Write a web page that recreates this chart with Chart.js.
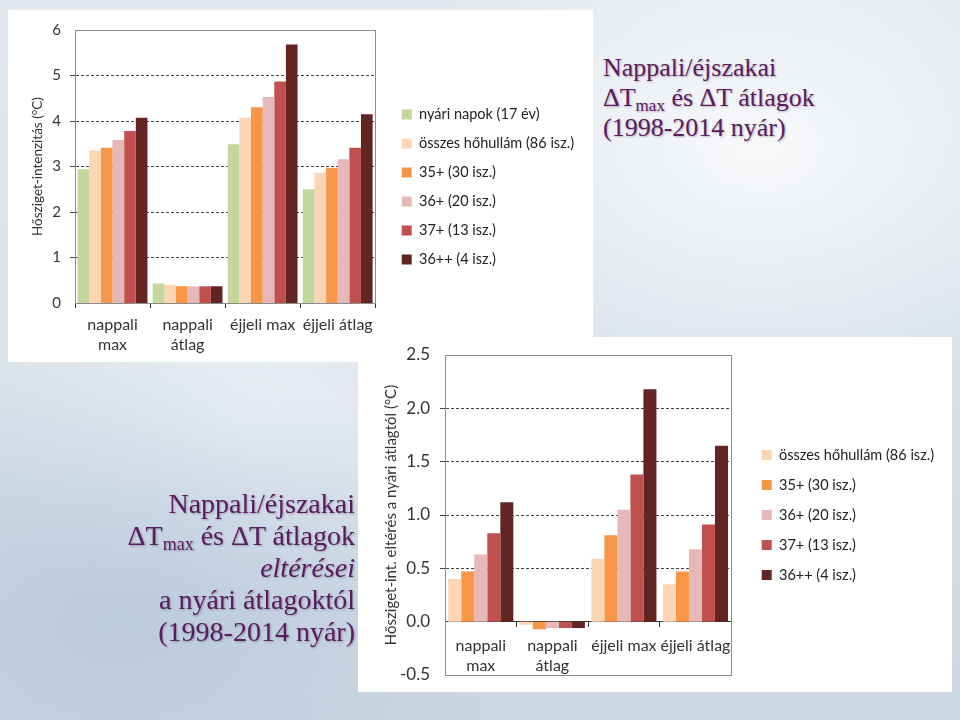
<!DOCTYPE html>
<html>
<head>
<meta charset="utf-8">
<script src="https://cdn.jsdelivr.net/npm/chart.js@4"></script>
<style>
  body { margin: 0; width: 960px; height: 720px; overflow: hidden;
    background:
      radial-gradient(ellipse 380px 260px at 760px 150px, rgba(250,251,252,0.9), rgba(250,251,252,0) 100%),
      radial-gradient(ellipse 420px 260px at 120px 620px, rgba(185,202,220,0.9), rgba(185,202,220,0) 100%),
      radial-gradient(ellipse 300px 200px at 250px 420px, rgba(240,243,247,0.8), rgba(240,243,247,0) 100%),
      linear-gradient(180deg, #e3e8ee 0%, #d6dfe8 60%, #cbd7e3 100%);
    position: relative; font-family: "Liberation Serif", serif; }
  .panel { position: absolute; background: #fff; }
  #p1 { left: 8px; top: 10px; width: 585px; height: 352px; }
  #p2 { left: 358px; top: 337px; width: 594px; height: 355px; }
  .title { position: absolute; color: #5a1c5f; font-size: 26px; line-height: 30px;
    text-shadow: 1px 1px 2px rgba(60,40,70,0.35); }
  .title sub { font-size: 17px; vertical-align: -5px; line-height: 0; }
  #t1 { left: 603px; top: 53px; }
  #t2 { right: 605px; top: 488px; text-align: right; font-size: 28px; line-height: 32px; }
  #t2 sub { font-size: 18px; }
</style>
</head>
<body>
<div class="panel" id="p1"><canvas id="c1" width="585" height="352"></canvas></div>
<div class="panel" id="p2"><canvas id="c2" width="594" height="355"></canvas></div>
<div class="title" id="t1">Nappali/éjszakai<br>ΔT<sub>max</sub> és ΔT átlagok<br>(1998-2014 nyár)</div>
<div class="title" id="t2">Nappali/éjszakai<br>ΔT<sub>max</sub> és ΔT átlagok<br><i>eltérései</i><br>a nyári átlagoktól<br>(1998-2014 nyár)</div>
<script>
const categories = [["nappali", "max"], ["nappali", "átlag"], "éjjeli max", "éjjeli átlag"];

// chart 1: heat island intensity
const seriesNames1 = ["nyári napok (17 év)", "összes hőhullám (86 isz.)", "35+ (30 isz.)", "36+ (20 isz.)", "37+ (13 isz.)", "36++ (4 isz.)"];
const nyariNapok = [2.94, 0.43, 3.49, 2.50];
const osszesHohullam = [3.35, 0.40, 4.07, 2.86];
const plus35 = [3.41, 0.37, 4.30, 2.97];
const plus36 = [3.58, 0.37, 4.53, 3.16];
const plus37 = [3.78, 0.37, 4.87, 3.41];
const plusPlus36 = [4.07, 0.37, 5.68, 4.15];

// chart 2: deviation from summer mean
const seriesNames2 = ["összes hőhullám (86 isz.)", "35+ (30 isz.)", "36+ (20 isz.)", "37+ (13 isz.)", "36++ (4 isz.)"];
const devOsszes = [0.40, -0.03, 0.59, 0.35];
const dev35 = [0.47, -0.07, 0.81, 0.47];
const dev36 = [0.63, -0.06, 1.05, 0.68];
const dev37 = [0.83, -0.06, 1.38, 0.91];
const dev36pp = [1.12, -0.06, 2.18, 1.65];

const yTicks1 = [0, 1, 2, 3, 4, 5, 6];
const yTicks2 = [-0.5, 0.0, 0.5, 1.0, 1.5, 2.0, 2.5];

const colors = ["#c3d69b", "#fcd5b4", "#f79646", "#e6b9b8", "#c0504d", "#632523"];
const textColor = "#333";

const frame = {
  id: "frame",
  afterDraw(chart) {
    const a = chart.chartArea, ctx = chart.ctx;
    ctx.save();
    ctx.strokeStyle = "#8c8c8c";
    ctx.lineWidth = 1;
    ctx.strokeRect(Math.round(a.left) + 0.5, Math.round(a.top) + 0.5, Math.round(a.right - a.left), Math.round(a.bottom - a.top));
    ctx.restore();
  }
};

function makeChart(id, names, series, cols, yMin, yMax, yTitle, opts) {
  return new Chart(document.getElementById(id), {
    type: "bar",
    data: {
      labels: categories,
      datasets: series.map((d, i) => ({
        label: names[i], data: d, backgroundColor: cols[i], borderWidth: 0,
        categoryPercentage: opts.catPct, barPercentage: 1
      }))
    },
    plugins: [frame],
    options: {
      responsive: false, animation: false,
      layout: { padding: opts.padding },
      plugins: {
        tooltip: { enabled: false },
        legend: {
          position: "right", maxWidth: 260, align: opts.legendAlign,
          // blank title only used as a spacer above the items
          title: { display: opts.legendSpacer > 0, text: " ", font: { size: 10, lineHeight: 1 },
            padding: { top: 0, bottom: opts.legendSpacer } },
          labels: { boxWidth: 10, boxHeight: 10, padding: opts.legendPad, color: "#222",
            font: { family: "Lato", size: 14.5 } }
        }
      },
      scales: {
        x: {
          position: opts.xPos,
          grid: { drawOnChartArea: false, drawTicks: true, tickLength: 5, color: "#333", offset: true },
          border: { display: true, color: "#333" },
          ticks: { color: textColor, font: { family: "Lato", size: 16, lineHeight: 1.25 }, padding: opts.xPad,
            maxRotation: 0, autoSkip: false },
          afterFit: s => { if (opts.xHeight) s.height = opts.xHeight; }
        },
        y: {
          min: yMin, max: yMax,
          afterBuildTicks: s => { s.ticks = opts.yTicks.map(v => ({ value: v })); },
          grid: { color: "#444", tickColor: "#444", tickLength: 5, tickBorderDash: [],
            lineWidth: c => (c.tick && (c.tick.value === yMin || c.tick.value === yMax || c.tick.value === 0)) ? 0 : 1 },
          border: { display: true, color: "#333", dash: [3, 2] },
          ticks: { color: textColor, font: { family: "Lato", size: opts.yFont }, padding: opts.yPad,
            callback: v => opts.fmt(v) },
          title: { display: true, text: yTitle, color: textColor, font: { family: "Lato", size: opts.titleFont }, padding: 2 },
          afterFit: s => { s.width = opts.yWidth; s.paddingTop = 0; s.paddingBottom = 0; }
        },
        // empty strip between plot and legend
        gap: {
          position: "right", display: true,
          grid: { display: false }, border: { display: false }, ticks: { display: false },
          afterFit: s => { s.width = opts.gap; }
        }
      }
    }
  });
}

makeChart("c1", seriesNames1, [nyariNapok, osszesHohullam, plus35, plus36, plus37, plusPlus36], colors,
  0, 6, "Hősziget-intenzitás (°C)",
  { catPct: 0.93, padding: { left: 20, top: 20, right: 9, bottom: 0 }, legendPad: 14.5, xPos: "bottom",
    legendAlign: "start", legendSpacer: 52.75,
    xHeight: 59, xPad: 7, yWidth: 47, yFont: 15, yPad: 9, titleFont: 13.5, gap: 12,
    yTicks: yTicks1, fmt: v => String(v) });

makeChart("c2", seriesNames2, [devOsszes, dev35, dev36, dev37, dev36pp], colors.slice(1),
  -0.5, 2.5, "Hősziget-int. eltérés a nyári átlagtól (°C)",
  { catPct: 0.91, padding: { left: 22, top: 18, right: 8, bottom: 17 }, legendPad: 15.5, xPos: { y: 0 },
    legendAlign: "center", legendSpacer: 0,
    xHeight: null, xPad: 9, yWidth: 65, yFont: 17, yPad: 10, titleFont: 15, gap: 15,
    yTicks: yTicks2, fmt: v => v.toFixed(1) });
</script>
</body>
</html>
